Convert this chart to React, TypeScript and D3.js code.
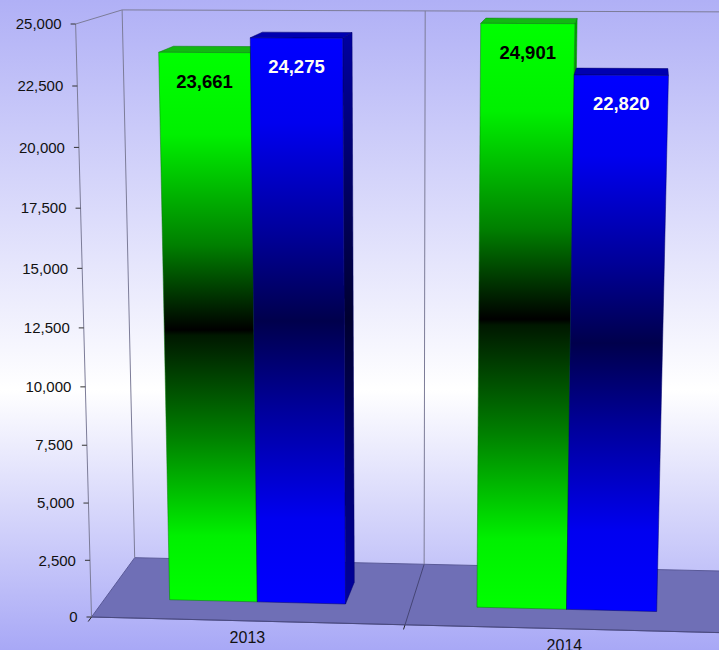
import React from 'react';
import * as d3 from 'd3';

// ---------- data ----------
const categories = ['2013', '2014'];
const seriesKeys = ['green', 'blue'];
const greenValues = [23661, 24901];
const blueValues = [24275, 22820];
const yTickValues = [0, 2500, 5000, 7500, 10000, 12500, 15000, 17500, 20000, 22500, 25000];
const yMax = 25000;

// ---------- layout / camera ----------
const W = 719;
const H = 650;
const ORIGIN: [number, number] = [91.5, 617];
const VP_U: [number, number] = [-28000, -82];
const VP_V: [number, number] = [402, 12212];
const VP_W: [number, number] = [650, -150];
const U_X = 405;
const V_Y = 24;
const W_Y = 557.7;
const lu = (U_X - ORIGIN[0]) / (VP_U[0] - U_X);
const lv = (V_Y - ORIGIN[1]) / (VP_V[1] - V_Y);
const lw = (W_Y - ORIGIN[1]) / (VP_W[1] - W_Y);

function project(u: number, v: number, w: number): [number, number] {
  const X = lu * u * VP_U[0] + lv * v * VP_V[0] + lw * w * VP_W[0] + ORIGIN[0];
  const Y = lu * u * VP_U[1] + lv * v * VP_V[1] + lw * w * VP_W[1] + ORIGIN[1];
  const Z = lu * u + lv * v + lw * w + 1;
  return [X / Z, Y / Z];
}

// camera centre (null space of the projection)
function cameraCentre(): [number, number, number] {
  const A = [
    [lu * VP_U[0], lv * VP_V[0], lw * VP_W[0]],
    [lu * VP_U[1], lv * VP_V[1], lw * VP_W[1]],
    [lu, lv, lw],
  ];
  const b = [-ORIGIN[0], -ORIGIN[1], -1];
  const det = (m: number[][]) =>
    m[0][0] * (m[1][1] * m[2][2] - m[1][2] * m[2][1]) -
    m[0][1] * (m[1][0] * m[2][2] - m[1][2] * m[2][0]) +
    m[0][2] * (m[1][0] * m[2][1] - m[1][1] * m[2][0]);
  const D = det(A);
  const res: number[] = [];
  for (let c = 0; c < 3; c++) {
    const M = A.map((row, r) => row.map((val, k) => (k === c ? b[r] : val)));
    res.push(det(M) / D);
  }
  return [res[0], res[1], res[2]];
}

const W_FRONT = 0.3;
const W_BACK = 0.66;

const xScale = d3.scaleBand<string>().domain(categories).range([0, 2]).paddingInner(0.425).paddingOuter(0.2125);
const sScale = d3.scaleBand<string>().domain(seriesKeys).range([0, xScale.bandwidth()]);
const vScale = d3.scaleLinear().domain([0, yMax]).range([0, 1]);
const fmt = d3.format(',');

const poly = (pts: [number, number, number][]) =>
  pts.map((p) => project(p[0], p[1], p[2]).map((n) => n.toFixed(2)).join(',')).join(' ');

const style: Record<string, any> = {
  green: { front: 'url(#gFront)', side: 'url(#gSide)', top: '#12b812', stroke: '#0a7a0a', label: '#000000' },
  blue: { front: 'url(#bFront)', side: 'url(#bSide)', top: '#0000b0', stroke: '#00006a', label: '#fffff4' },
};

export default function App() {
  const cam = cameraCentre();
  const bars: any[] = [];
  categories.forEach((c, i) => {
    [greenValues[i], blueValues[i]].forEach((val, s) => {
      const key = seriesKeys[s];
      const u0 = (xScale(c) as number) + (sScale(key) as number);
      const u1 = u0 + sScale.bandwidth();
      bars.push({ c, key, val, u0, u1, v1: vScale(val) });
    });
  });
  bars.sort((a, b) => Math.abs((b.u0 + b.u1) / 2 - cam[0]) - Math.abs((a.u0 + a.u1) / 2 - cam[0]));

  const font = "'Liberation Sans', Arial, sans-serif";
  const wallStroke = '#7c7c98';

  return (
    <svg width={W} height={H} style={{ position: 'absolute', left: 0, top: 0 }} fontFamily={font}>
      <defs>
        <linearGradient id="bg" x1="0" y1="0" x2="0" y2="1">
          <stop offset="0%" stopColor="#b0b0f6" />
          <stop offset="60%" stopColor="#ffffff" />
          <stop offset="100%" stopColor="#a8a8f6" />
        </linearGradient>
        <linearGradient id="gFront" x1="0" y1="0" x2="0" y2="1">
          <stop offset="0%" stopColor="#00ff00" />
          <stop offset="15%" stopColor="#00f000" />
          <stop offset="35%" stopColor="#008000" />
          <stop offset="50.5%" stopColor="#000000" />
          <stop offset="51.5%" stopColor="#001800" />
          <stop offset="70%" stopColor="#008000" />
          <stop offset="88%" stopColor="#00f000" />
          <stop offset="100%" stopColor="#00ff00" />
        </linearGradient>
        <linearGradient id="gSide" x1="0" y1="0" x2="0" y2="1">
          <stop offset="0%" stopColor="#00b000" />
          <stop offset="50%" stopColor="#000000" />
          <stop offset="100%" stopColor="#00b000" />
        </linearGradient>
        <linearGradient id="bFront" x1="0" y1="0" x2="0" y2="1">
          <stop offset="0%" stopColor="#0000ff" />
          <stop offset="15%" stopColor="#0000f0" />
          <stop offset="35%" stopColor="#000098" />
          <stop offset="50%" stopColor="#00004c" />
          <stop offset="65%" stopColor="#000098" />
          <stop offset="85%" stopColor="#0000f0" />
          <stop offset="100%" stopColor="#0000ff" />
        </linearGradient>
        <linearGradient id="bSide" x1="0" y1="0" x2="0" y2="1">
          <stop offset="0%" stopColor="#0000a0" />
          <stop offset="50%" stopColor="#000030" />
          <stop offset="100%" stopColor="#0000a0" />
        </linearGradient>
      </defs>
      <rect x={0} y={0} width={W} height={H} fill="url(#bg)" />

      {/* floor */}
      <polygon points={poly([[0, 0, 0], [2, 0, 0], [2, 0, 1], [0, 0, 1]])} fill="#6f6fb6" stroke="#5a5a98" strokeWidth={1} />
      {/* floor depth divider and ticks */}
      {[0, 1, 2].map((u) => {
        const a = project(u, 0, 0);
        const b = project(u, 0, 1);
        const t = project(u, 0, -0.07);
        return (
          <g key={'fd' + u}>
            {u > 0 && <line x1={a[0]} y1={a[1]} x2={b[0]} y2={b[1]} stroke="#454575" strokeWidth={1} />}
            <line x1={a[0]} y1={a[1]} x2={t[0]} y2={t[1]} stroke="#222" strokeWidth={1} />
          </g>
        );
      })}
      {/* front edge */}
      {(() => {
        const a = project(0, 0, 0);
        const b = project(2, 0, 0);
        return <line x1={a[0]} y1={a[1]} x2={b[0]} y2={b[1]} stroke="#4a4a7e" strokeWidth={1} />;
      })()}

      {/* walls */}
      {[
        [[0, 0, 1], [0, 1, 1]],
        [[0, 1, 0], [0, 1, 1]],
        [[0, 1, 1], [2, 1, 1]],
        [[1, 0, 1], [1, 1, 1]],
        [[2, 0, 1], [2, 1, 1]],
        [[0, 0, 0], [0, 1, 0]],
      ].map((seg, i) => {
        const a = project(seg[0][0], seg[0][1], seg[0][2]);
        const b = project(seg[1][0], seg[1][1], seg[1][2]);
        return <line key={'w' + i} x1={a[0]} y1={a[1]} x2={b[0]} y2={b[1]} stroke={wallStroke} strokeWidth={1} />;
      })}

      {/* y axis ticks and labels */}
      {yTickValues.map((t) => {
        const p = project(0, vScale(t), 0);
        return (
          <g key={'t' + t}>
            <line x1={p[0] - 5} y1={p[1]} x2={p[0]} y2={p[1]} stroke="#333" strokeWidth={1} />
            <text x={p[0] - 14} y={p[1]} dy="0.35em" textAnchor="end" fontSize={15} fill="#111">
              {fmt(t)}
            </text>
          </g>
        );
      })}

      {/* category labels */}
      {categories.map((c) => {
        const uc = (xScale(c) as number) + xScale.bandwidth() / 2;
        const p = project(uc, 0, 0);
        return (
          <text key={'c' + c} x={p[0]} y={p[1] + 22} textAnchor="middle" fontSize={16} fill="#111">
            {c}
          </text>
        );
      })}

      {/* bars */}
      {bars.map((b, i) => {
        const st = style[b.key];
        const { u0, u1, v1 } = b;
        const faces: any[] = [];
        if (cam[0] > u1)
          faces.push(<polygon key="r" points={poly([[u1, 0, W_FRONT], [u1, 0, W_BACK], [u1, v1, W_BACK], [u1, v1, W_FRONT]])} fill={st.side} stroke={st.stroke} strokeWidth={0.5} />);
        if (cam[0] < u0)
          faces.push(<polygon key="l" points={poly([[u0, 0, W_FRONT], [u0, 0, W_BACK], [u0, v1, W_BACK], [u0, v1, W_FRONT]])} fill={st.side} stroke={st.stroke} strokeWidth={0.5} />);
        if (cam[1] > v1)
          faces.push(<polygon key="t" points={poly([[u0, v1, W_FRONT], [u1, v1, W_FRONT], [u1, v1, W_BACK], [u0, v1, W_BACK]])} fill={st.top} stroke={st.stroke} strokeWidth={0.5} />);
        faces.push(<polygon key="f" points={poly([[u0, 0, W_FRONT], [u1, 0, W_FRONT], [u1, v1, W_FRONT], [u0, v1, W_FRONT]])} fill={st.front} stroke={st.stroke} strokeWidth={0.5} />);
        return <g key={'b' + i}>{faces}</g>;
      })}

      {/* value labels */}
      {bars.map((b, i) => {
        const st = style[b.key];
        const p = project((b.u0 + b.u1) / 2, b.v1, W_FRONT);
        return (
          <text key={'v' + i} x={p[0]} y={p[1] + 35} textAnchor="middle" fontSize={18.5} fontWeight="bold" fill={st.label}>
            {fmt(b.val)}
          </text>
        );
      })}
    </svg>
  );
}
